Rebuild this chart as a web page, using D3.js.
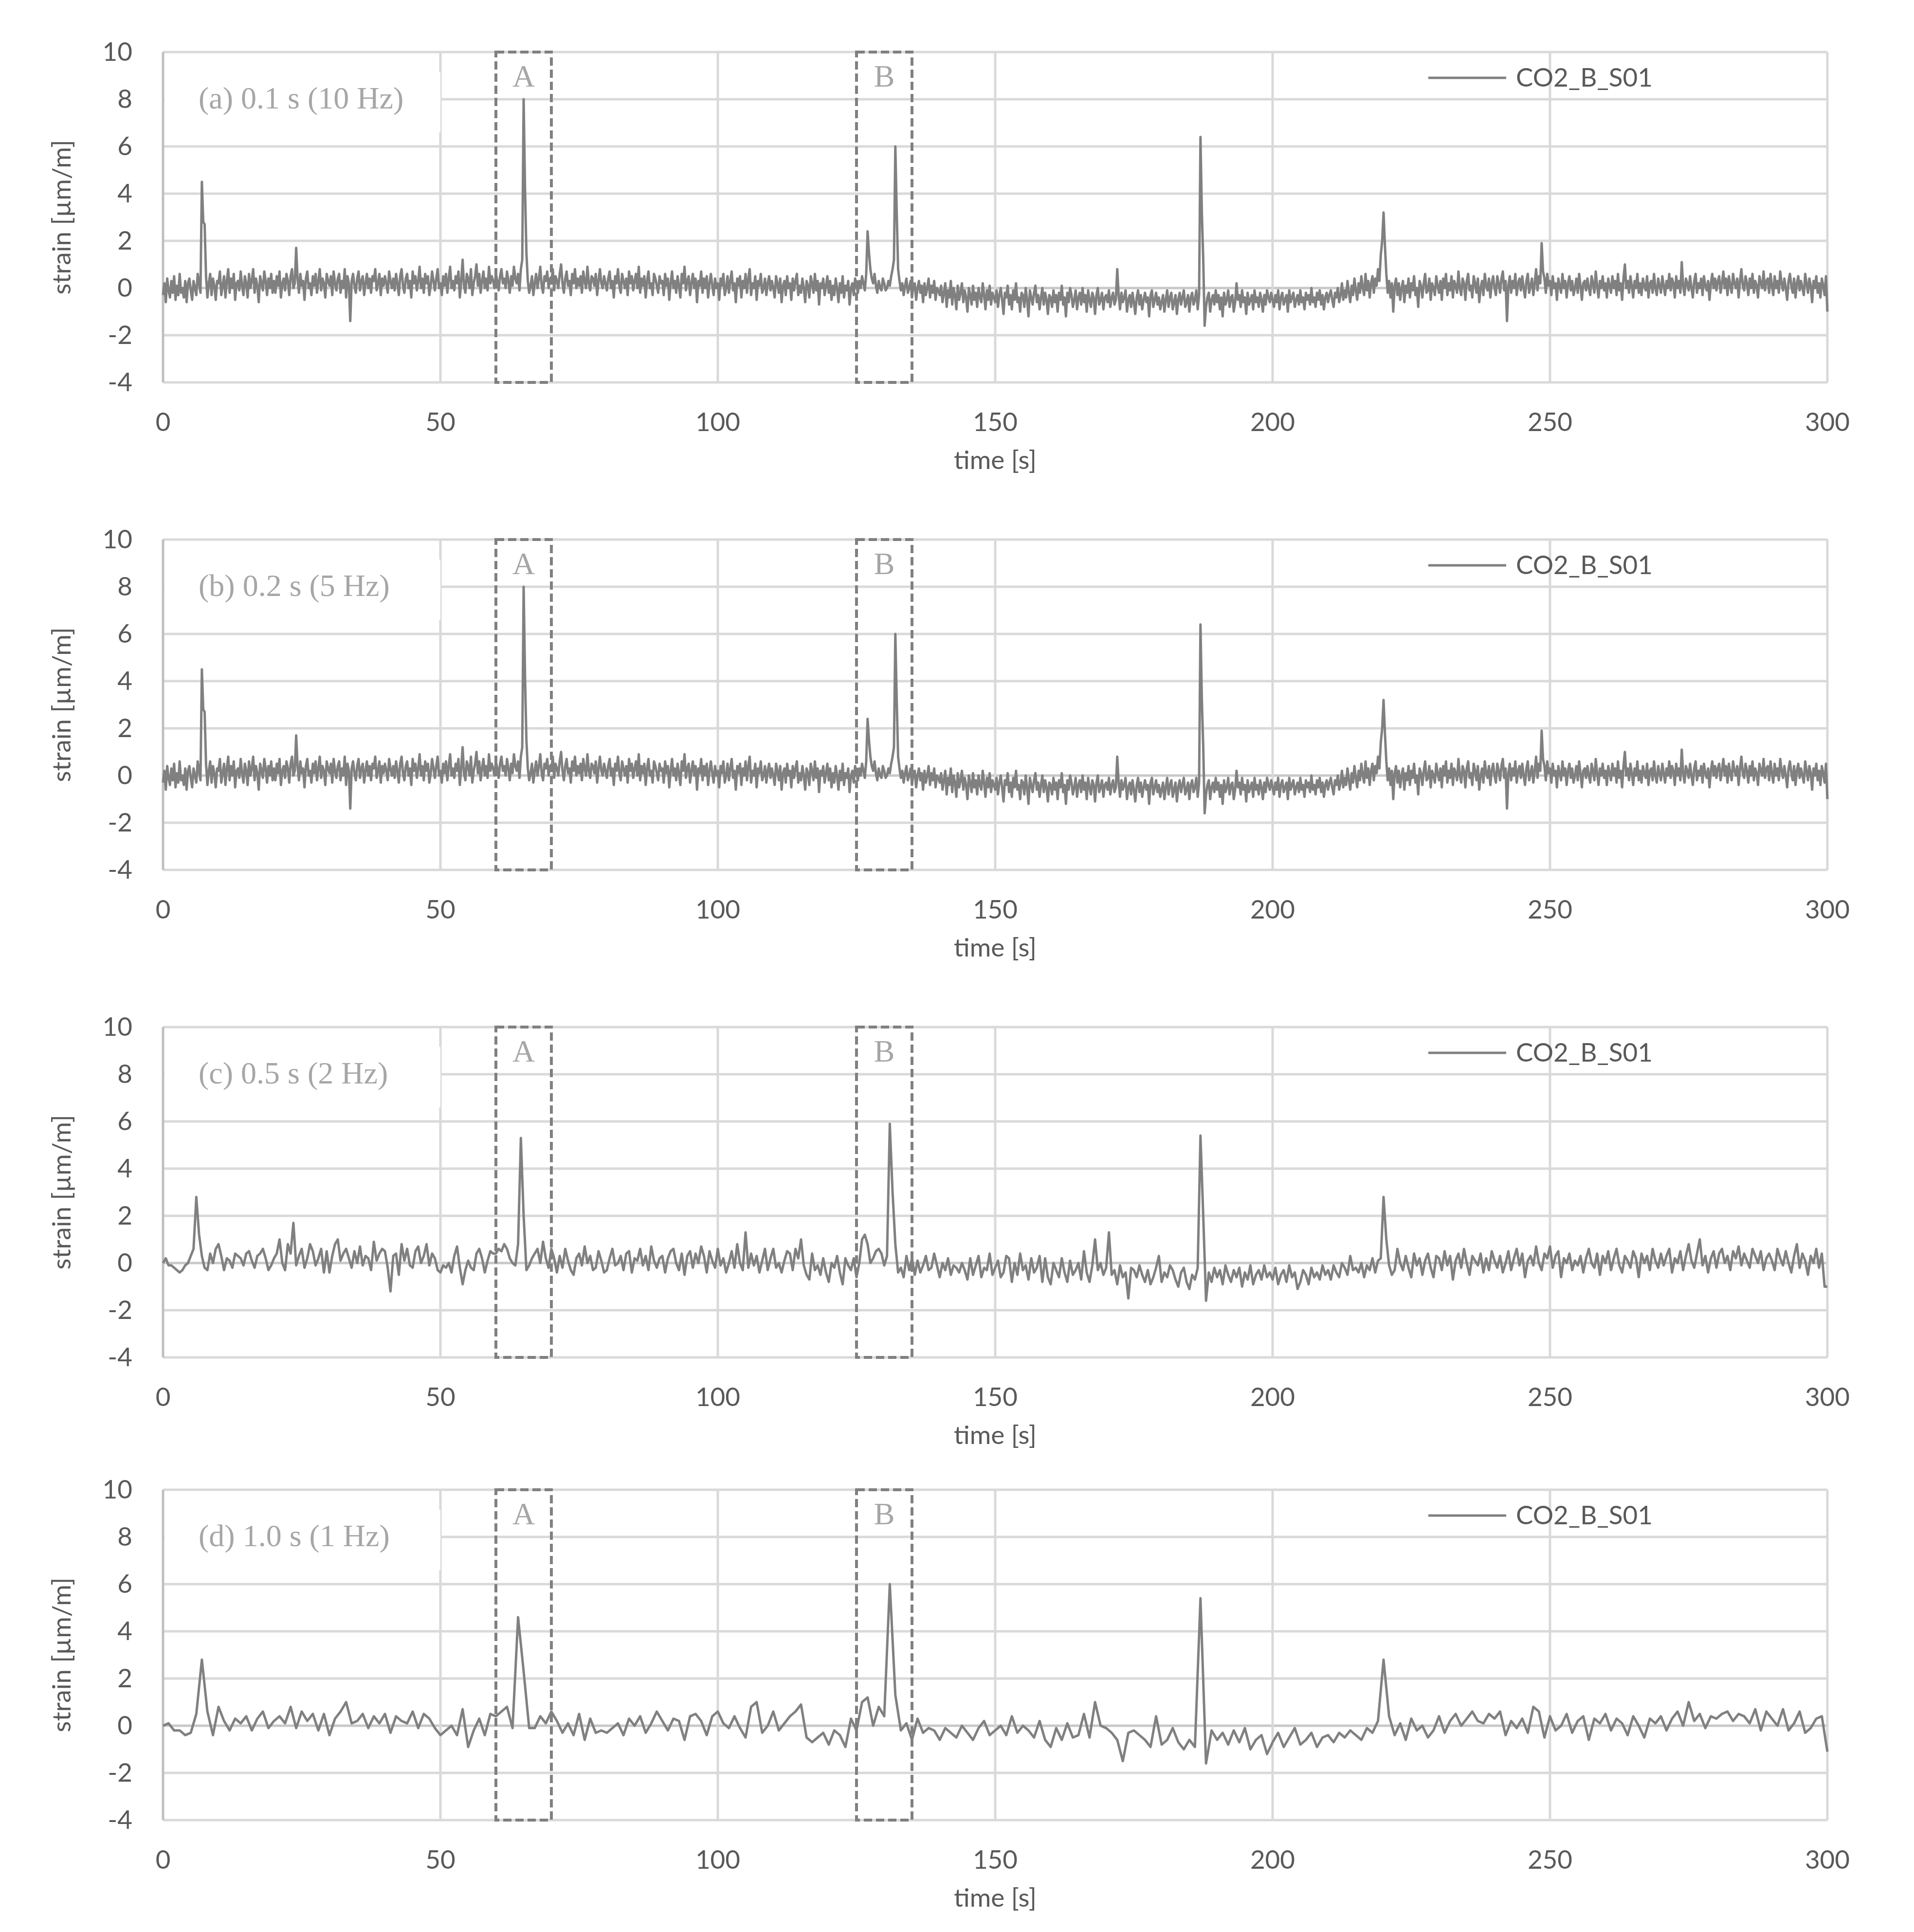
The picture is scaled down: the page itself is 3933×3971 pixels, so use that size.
<!DOCTYPE html>
<html>
<head>
<meta charset="utf-8">
<script src="https://cdn.jsdelivr.net/npm/d3@7"></script>
<style>
  body { margin: 0; background: #fff; }
  text { font-family: Lato, "Open Sans", sans-serif; }
</style>
</head>
<body>
<div id="chart"></div>
<script>
// Strain values in tenths of µm/m, one row per 10 s block (last row = t 300 s)
const denseRows = [
  [-3,2,-6,4,-1,-4,3,-2,5,-5,1,-3,6,-2,0,-4,3,-6,2,4,-1,-5,3,0,-3,6,2,-2,45,28,27,5,-4,2,6,-3,4,1,-5,3],
  [2,7,-3,1,5,-4,3,8,-2,4,0,6,-5,2,3,-1,7,1,-3,5,2,-4,6,0,3,8,-2,4,1,-6,5,2,-1,7,3,-3,4,0,6,-2],
  [3,-2,5,1,7,-4,2,4,-1,6,3,-3,5,8,0,2,17,4,-2,6,1,3,-5,4,7,0,2,-3,5,1,6,-2,3,8,-1,4,2,-4,6,3],
  [1,5,-3,7,2,-1,4,6,-2,3,0,8,-4,5,2,-14,3,6,1,-2,4,7,-1,3,5,-3,2,6,0,4,-2,5,3,8,-1,2,6,-3,4,1],
  [5,2,-2,7,3,0,4,-1,6,2,-3,5,8,1,-2,4,6,0,3,-4,7,2,5,-1,3,9,0,4,-2,6,2,5,-3,1,7,3,-1,4,8,0],
  [2,-3,5,1,6,-2,4,9,0,3,-1,5,2,7,-4,3,12,1,-2,6,4,0,8,-3,2,5,10,1,6,-2,3,7,0,4,-1,9,2,5,3,0],
  [6,3,-1,5,8,2,4,0,7,3,-2,5,1,9,4,2,6,-1,8,12,80,42,15,3,-2,1,5,-3,2,6,0,4,9,1,-2,5,3,7,0,4],
  [2,8,-1,5,3,0,6,10,2,-2,4,7,1,3,-3,6,2,8,0,4,1,5,-2,7,3,0,9,2,-1,5,4,1,6,-3,3,8,2,0,5,2],
  [-1,4,7,0,3,-4,5,2,8,1,-2,6,3,0,4,-3,7,2,5,-1,3,6,0,9,-2,4,1,5,-4,3,7,0,2,-3,6,4,1,-2,5,2],
  [3,-3,6,1,4,-5,2,7,0,3,-2,5,1,-4,6,2,9,-1,3,5,-3,2,6,0,4,-6,3,1,7,-2,4,0,5,-4,2,6,1,-3,4,0],
  [2,-5,4,1,6,-3,0,5,-2,3,7,-1,2,-6,4,1,5,-4,3,0,6,-2,4,8,-3,2,0,5,-5,3,1,6,-2,0,4,-3,2,5,-1,3],
  [0,-4,5,2,-2,4,-6,1,3,-3,5,0,2,-5,4,-1,3,6,-3,1,-2,4,0,-6,3,1,-4,5,2,-2,6,-1,3,-7,2,0,4,-3,1,5],
  [-2,3,-5,1,-3,4,0,-6,2,-2,5,-4,1,-1,3,-7,0,2,-3,4,1,-2,3,0,5,2,-1,6,24,15,8,4,2,6,1,-2,3,0,-1,4],
  [2,-1,0,3,1,5,8,12,60,32,8,3,-1,2,-3,1,4,-2,0,3,-4,1,2,-5,0,3,-2,1,-6,2,-3,0,4,-4,1,-2,3,-5,0,-1],
  [-3,1,-6,-2,2,-8,-1,-4,3,-7,0,-3,-9,1,-5,-2,2,-6,-1,-4,-10,0,-3,-7,1,-5,-2,-8,0,-4,-6,2,-3,-9,-1,-5,1,-7,-2,-4],
  [-6,-1,-8,-3,0,-5,-11,-2,-4,1,-7,-3,-9,-1,-5,2,-6,-4,-10,-2,-3,-8,0,-5,-12,-1,-4,-7,-2,1,-6,-3,-9,-4,0,-7,-2,-5,-11,-3],
  [-4,-8,-1,-6,-3,-10,-2,-5,1,-7,-4,-12,-2,-6,0,-3,-8,-5,-1,-9,-4,-2,-7,0,-6,-3,-10,-1,-5,-8,-2,-4,-11,-3,0,-7,-5,-2,-9,-4],
  [-3,-6,-1,-8,-4,-2,-7,-5,8,-3,-9,-2,-6,-4,-1,-10,-5,-3,-8,-2,-6,-11,-4,-1,-7,-3,-9,-5,-2,-6,-4,-12,-3,-1,-8,-5,-2,-7,-4,-9],
  [-6,-3,-10,-5,-1,-8,-4,-2,-9,-6,-3,-11,-5,-2,-7,-4,-1,-8,-6,-3,-10,-4,-2,-7,-5,-1,-9,-3,64,32,12,-16,-8,-4,-2,-10,-5,-3,-7,-1],
  [-6,-3,-9,-4,-12,-2,-7,-5,-1,-8,-4,-3,-10,-6,2,-5,-3,-8,-1,-6,-4,-11,-2,-7,-5,-3,-9,-1,-6,-4,-8,-2,-5,-10,-3,-7,-1,-4,-6,-2],
  [-5,-8,-3,-6,-1,-9,-4,-2,-7,-5,-3,-10,-1,-6,-4,-2,-8,-5,-3,-7,-1,-6,-4,-9,-2,-5,-3,-7,0,-6,-4,-8,-2,-5,-1,-7,-3,-9,-4,-2],
  [-6,-3,-1,-5,-8,-2,-4,0,-6,-3,2,-5,-1,-4,3,-2,-6,1,-3,4,-1,-5,2,-2,5,0,-3,6,-1,3,-4,2,5,-2,4,1,8,3,14,20],
  [32,18,6,-2,3,-4,2,-10,1,4,-3,2,-5,0,3,-6,1,-2,4,-4,2,-1,5,-3,0,-8,3,1,-4,2,6,-2,-1,4,-5,2,0,-3,5,1],
  [-2,3,-5,4,0,6,-3,2,-1,5,-4,3,1,-2,7,0,-3,4,2,-5,3,6,-1,1,-4,5,2,-2,4,-6,0,3,-3,6,1,-1,4,-4,2,5],
  [0,-3,5,2,-2,4,7,-1,3,-14,1,5,-2,3,0,6,-3,2,4,-1,5,0,-4,3,6,-2,1,4,-3,2,8,-1,5,2,19,7,4,-2,6,1],
  [3,-3,5,0,2,-5,4,1,-2,6,0,3,-4,2,5,-1,3,-3,0,4,-2,6,1,-5,2,3,-1,4,0,-3,5,2,-2,7,1,-4,3,0,5,-1],
  [2,-4,4,1,-2,5,0,3,-3,6,-1,2,-5,4,10,0,3,-2,5,1,-4,3,0,6,-2,2,-3,4,1,-1,5,-4,2,3,-2,6,0,-3,4,1],
  [-2,5,1,-3,3,0,6,-1,4,2,-4,5,0,3,-2,11,1,-3,4,2,-1,5,0,-4,3,6,-2,2,0,4,-3,5,1,-1,3,-5,2,6,0,4],
  [-1,3,5,-2,2,7,0,4,-3,5,1,-2,6,2,0,4,-4,3,8,1,-1,5,2,-3,4,0,6,-2,3,1,-4,5,2,0,7,-1,3,4,-2,6],
  [1,-3,5,0,3,-2,7,2,-1,4,0,-5,3,6,1,-2,4,-4,2,5,-1,3,0,-3,6,2,-2,4,1,-6,3,0,5,-2,2,-4,4,1,-3,5],
  [-10]
];
const halfRows = [
  [0,2,-1,-1,-2,-3,-4,-3,-1,0,3,6,28,12,3,-2,-3,4,0,6],
  [8,3,-3,2,1,-2,4,3,2,-1,4,5,1,-2,3,4,6,2,-3,-1],
  [2,4,10,0,-3,8,4,17,-1,3,6,-2,2,8,5,-1,2,6,-4,5],
  [-4,3,8,10,1,4,6,2,-2,5,0,7,-1,3,2,-3,9,1,4,6],
  [5,-2,-12,3,4,-5,8,1,6,-1,-2,5,7,0,3,8,-1,4,2,-3],
  [-4,-1,-2,0,-4,3,7,-2,-9,-3,1,-2,-3,4,6,2,-4,1,5,4],
  [4,6,5,8,6,2,0,-1,8,53,20,-3,-1,2,4,6,0,9,2,-2],
  [6,2,-4,3,-2,6,1,-3,-5,2,4,-1,7,0,3,-3,-2,5,1,-4],
  [-3,2,6,-1,0,3,-3,4,5,-4,2,1,6,-1,3,-3,7,1,-2,2],
  [3,-4,2,5,6,0,-3,4,-5,3,5,-2,4,0,7,3,-4,5,1,-2],
  [6,-1,2,-4,0,5,-2,8,0,-3,13,-2,4,-1,3,-4,1,6,-3,2],
  [6,-2,0,-4,1,5,4,-3,6,2,10,-1,-5,-7,4,-3,-1,-5,2,-4],
  [-8,0,-2,3,-4,-9,2,-1,-3,2,-6,0,10,12,8,0,2,5,6,4],
  [-1,3,59,30,8,-4,-2,-6,3,-3,2,-5,1,-4,-1,3,-3,-2,4,-1],
  [-6,0,-3,2,-5,-1,-2,-4,0,-3,-7,2,-5,-1,3,-6,-2,-3,4,-5],
  [-2,1,-6,-4,3,2,-8,0,-5,4,-3,-1,-7,2,-4,-2,3,-8,2,-6],
  [-9,0,-3,-6,2,-4,-8,1,-5,-3,0,-7,5,-4,-8,-1,10,-3,0,-5],
  [-2,13,-5,-3,-9,-1,-6,-4,-15,-2,-3,-6,-1,-5,-8,-3,-9,-6,-2,3],
  [-8,-4,-6,-1,-3,-7,-10,-4,-2,-8,-11,-5,-7,-2,54,20,-16,-4,-8,-2],
  [-6,-3,-9,-1,-5,-8,-3,-6,-2,-10,-4,-7,-1,-9,-5,-3,-7,-1,-6,-4],
  [-7,-2,-9,-5,-3,-8,-1,-6,-4,-11,-8,-3,-5,-9,-2,-6,-4,-7,-1,-5],
  [-3,-7,-1,-4,-6,0,-2,-5,3,-3,-2,-4,0,-6,-1,-3,2,-4,1,2],
  [28,10,-1,-5,-3,6,0,-3,3,-2,-6,4,-1,2,-5,1,4,-2,-6,3],
  [2,-3,5,-1,3,-7,1,4,-2,6,0,-5,3,1,-1,4,-4,2,-3,5],
  [1,-2,3,-4,0,5,-3,2,6,-1,4,-6,1,3,-1,7,0,-3,4,2],
  [7,-2,3,5,-6,2,0,4,-3,1,-1,3,-4,2,6,0,-2,4,-5,3],
  [0,5,-3,2,6,-1,-4,3,1,-2,5,2,-6,4,0,3,-3,6,1,-2],
  [4,-1,3,6,-4,2,0,5,-3,3,8,1,-2,4,10,-1,3,-4,2,5],
  [-2,4,6,0,3,-3,5,2,7,-1,4,1,-2,6,3,0,5,-3,2,4],
  [1,-3,6,2,-1,5,0,-4,3,8,-2,4,1,-5,3,0,6,-2,4,-10],
  [-10]
];
const secondRows = [
  [0,1,-2,-2,-4,-3,5,28,6,-4],
  [8,2,-2,3,1,4,-2,3,6,-1],
  [2,4,1,8,-1,6,2,5,-2,5],
  [-4,3,6,10,1,2,5,-1,4,1],
  [5,-3,4,2,1,6,-1,5,3,-1],
  [-4,-2,0,-4,7,-9,-2,3,-4,5],
  [4,6,8,-1,46,23,-1,-1,4,1],
  [6,2,-3,1,-4,5,-6,3,-3,-2],
  [-3,-1,1,-4,3,0,4,-3,1,6],
  [2,-2,3,2,-6,4,5,2,-4,4],
  [6,1,-1,4,-1,-5,8,10,-3,0],
  [6,-2,1,4,6,9,-5,-7,-5,-3],
  [-8,-2,-4,-9,3,-2,10,12,0,8],
  [4,60,13,-2,1,-6,3,-3,-1,-2],
  [-6,-1,-3,-5,0,-3,-6,-1,2,-4],
  [-2,0,-4,4,-3,0,-2,-5,2,-6],
  [-9,-1,-6,1,-5,-4,5,-5,10,0],
  [-1,-3,-6,-15,-3,-2,-4,-6,-9,4],
  [-8,-6,-1,-7,-10,-6,-9,54,-16,-2],
  [-6,-3,-8,-2,-7,-1,-10,-6,-4,-12],
  [-7,-3,-9,-5,-1,-8,-6,-3,-9,-5],
  [-4,-7,-3,-5,-2,-4,-6,-1,-3,2],
  [28,4,-4,1,-6,3,-2,0,-5,-2],
  [4,-3,2,5,0,3,6,2,1,5],
  [3,6,-4,2,-1,3,-3,8,6,-5],
  [4,-2,0,5,-3,2,4,-6,3,1],
  [5,-2,3,1,-4,4,0,-5,3,1],
  [4,-2,3,6,0,10,2,5,-1,4],
  [3,5,6,2,5,4,1,7,-2,6],
  [3,0,7,-2,1,6,-3,-1,3,4],
  [-11]
];

const panels = [
  { rows: denseRows, label: "(a) 0.1 s (10 Hz)", top: 107 },
  { rows: denseRows, label: "(b) 0.2 s (5 Hz)", top: 1109 },
  { rows: halfRows, label: "(c) 0.5 s (2 Hz)", top: 2111 },
  { rows: secondRows, label: "(d) 1.0 s (1 Hz)", top: 3062 }
];
const xTicks = [0, 50, 100, 150, 200, 250, 300];
const yTicks = [-4, -2, 0, 2, 4, 6, 8, 10];
const boxes = [{ name: "A", t0: 60, t1: 70 }, { name: "B", t0: 125, t1: 135 }];
const seriesName = "CO2_B_S01";

const W = 3933, H = 3971;
const left = 335, right = 3755, ph = 679;

const svg = d3.select("#chart").append("svg")
  .attr("width", W).attr("height", H);

const x = d3.scaleLinear().domain([0, 300]).range([left, right]);

function toPoints(rows) {
  const pts = [];
  rows.forEach((r, ri) => r.forEach((v, j) => pts.push([ri * 10 + j * 10 / r.length, v / 10])));
  return pts;
}

panels.forEach(p => {
  const g = svg.append("g");
  const y = d3.scaleLinear().domain([-4, 10]).range([p.top + ph, p.top]);

  // gridlines
  g.selectAll(".hg").data(yTicks).enter().append("line")
    .attr("x1", left).attr("x2", right)
    .attr("y1", d => y(d)).attr("y2", d => y(d))
    .attr("stroke", d => d === 0 ? "#c8c8c8" : "#d9d9d9").attr("stroke-width", 5);
  g.selectAll(".vg").data(xTicks).enter().append("line")
    .attr("x1", d => x(d)).attr("x2", d => x(d))
    .attr("y1", p.top).attr("y2", p.top + ph)
    .attr("stroke", d => d === 0 ? "#bfbfbf" : "#d9d9d9").attr("stroke-width", 5);

  // tick labels
  g.selectAll(".yl").data(yTicks).enter().append("text")
    .attr("x", 272).attr("y", d => y(d) + 18)
    .attr("text-anchor", "end").attr("font-size", 53).attr("fill", "#595959")
    .text(d => d);
  g.selectAll(".xl").data(xTicks).enter().append("text")
    .attr("x", d => x(d)).attr("y", p.top + ph + 100)
    .attr("text-anchor", "middle").attr("font-size", 53).attr("fill", "#595959")
    .text(d => d);

  g.append("text").attr("x", (left + right) / 2).attr("y", p.top + ph + 178)
    .attr("text-anchor", "middle").attr("font-size", 53).attr("fill", "#595959")
    .text("time [s]");
  g.append("text")
    .attr("transform", `translate(145,${p.top + ph / 2}) rotate(-90)`)
    .attr("text-anchor", "middle").attr("font-size", 53).attr("fill", "#595959")
    .text("strain [µm/m]");

  // series
  g.append("path").datum(toPoints(p.rows))
    .attr("fill", "none").attr("stroke", "#808080").attr("stroke-width", 5)
    .attr("stroke-linejoin", "round")
    .attr("d", d3.line().x(d => x(d[0])).y(d => y(d[1])));

  // dashed boxes
  boxes.forEach(b => {
    g.append("rect")
      .attr("x", x(b.t0)).attr("y", y(10))
      .attr("width", x(b.t1) - x(b.t0)).attr("height", y(-4) - y(10))
      .attr("fill", "none").attr("stroke", "#808080").attr("stroke-width", 6)
      .attr("stroke-dasharray", "17,8");
    g.append("text").attr("x", (x(b.t0) + x(b.t1)) / 2).attr("y", p.top + 71)
      .attr("text-anchor", "middle").attr("font-size", 64).attr("fill", "#a6a6a6")
      .style("font-family", "'Liberation Serif', serif").text(b.name);
  });

  // inset label
  g.append("rect").attr("x", 338).attr("y", p.top + 41).attr("width", 567).attr("height", 124)
    .attr("fill", "#fff");
  g.append("text").attr("x", 408).attr("y", p.top + 116)
    .attr("font-size", 64).attr("fill", "#a6a6a6")
    .style("font-family", "'Liberation Serif', serif").text(p.label);

  // legend
  g.append("line").attr("x1", 2935).attr("x2", 3095)
    .attr("y1", p.top + 53).attr("y2", p.top + 53)
    .attr("stroke", "#808080").attr("stroke-width", 5);
  g.append("text").attr("x", 3115).attr("y", p.top + 71)
    .attr("font-size", 53).attr("fill", "#595959").text(seriesName);
});
</script>
</body>
</html>
